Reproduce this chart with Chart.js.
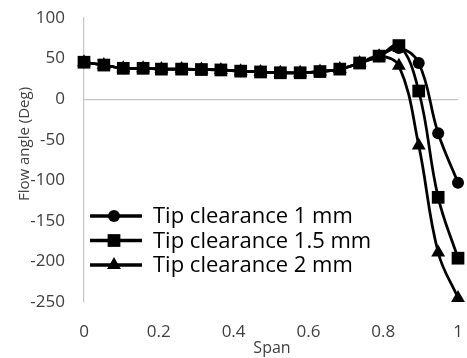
<!DOCTYPE html>
<html>
<head>
<meta charset="utf-8">
<script src="https://cdn.jsdelivr.net/npm/chart.js@4/dist/chart.umd.min.js"></script>
<style>
  body { margin: 0; background: #fff; }
  #wrap { width: 467px; height: 358px; }
</style>
</head>
<body>
<div id="wrap"><canvas id="flowChart" width="467" height="358"></canvas></div>
<script>
// span positions
const span = [0, 0.053, 0.105, 0.158, 0.207, 0.261, 0.314, 0.366, 0.419, 0.472,
              0.525, 0.578, 0.631, 0.684, 0.737, 0.789, 0.842, 0.895, 0.947, 1];

// flow angle (deg) for each tip clearance
const clear1 = [45.5, 42, 38, 38, 37, 37, 36.5, 36, 34.5, 33.5,
                32.5, 32.5, 34, 37, 44.5, 53, 63, 44.5, -42, -103];
const clear15 = [45.5, 42, 38, 38, 37, 37, 36.5, 36, 34.5, 33.5,
                 32.5, 32.5, 34, 37, 44.5, 53, 66, 10, -121, -196];
const clear2 = [45.5, 42, 38, 38, 37, 37, 36.5, 36, 34.5, 33.5,
                32.5, 32.5, 34, 37, 44.5, 53, 41, -57, -189, -245];

const seriesNames = ["Tip clearance 1 mm", "Tip clearance 1.5 mm", "Tip clearance 2 mm"];
const seriesData = [clear1, clear15, clear2];
const markers = ["circle", "rect", "triangle"];
const markerSize = [6, 9, 8];

const yTicks = { min: -250, max: 100, step: 50 };
const xTicks = { min: 0, max: 1, step: 0.2 };

const FONT = "'Open Sans', 'DejaVu Sans', sans-serif";

function toPoints(values) {
    return values.map((v, i) => ({ x: span[i], y: v }));
}

// draw one marker shape (used for legend)
function drawMarker(ctx, style, x, y, r) {
    ctx.beginPath();
    if (style === "circle") {
        ctx.arc(x, y, r, 0, Math.PI * 2);
    } else if (style === "rect") {
        const s = r * Math.SQRT1_2;
        ctx.rect(x - s, y - s, 2 * s, 2 * s);
    } else {
        ctx.moveTo(x, y - r);
        ctx.lineTo(x + r * Math.sin(Math.PI * 2 / 3), y + r / 2);
        ctx.lineTo(x - r * Math.sin(Math.PI * 2 / 3), y + r / 2);
        ctx.closePath();
    }
    ctx.fill();
}

// legend sits inside the plot, plus the two axis titles
const overlay = {
    id: "overlay",
    afterDraw(chart) {
        const ctx = chart.ctx;
        ctx.save();
        seriesNames.forEach((name, i) => {
            const y = 216 + i * 24.5;
            ctx.strokeStyle = "#000";
            ctx.fillStyle = "#000";
            ctx.lineWidth = 3.5;
            ctx.beginPath();
            ctx.moveTo(90, y);
            ctx.lineTo(142, y);
            ctx.stroke();
            drawMarker(ctx, markers[i], 114, y, markerSize[i]);
            ctx.font = "22px " + FONT;
            ctx.textBaseline = "middle";
            ctx.textAlign = "left";
            ctx.fillText(name, 153, y + 1);
        });

        ctx.fillStyle = "#404040";
        ctx.textAlign = "center";
        ctx.textBaseline = "middle";
        ctx.font = "16px " + FONT;
        ctx.fillText("Span", 272, 348);

        ctx.translate(25, 144);
        ctx.rotate(-Math.PI / 2);
        ctx.font = "15px " + FONT;
        ctx.fillText("Flow angle (Deg)", 0, 0);
        ctx.restore();
    }
};

function noPad(scale) {
    scale.paddingLeft = 0;
    scale.paddingRight = 0;
    scale.paddingTop = 0;
    scale.paddingBottom = 0;
}

new Chart(document.getElementById("flowChart"), {
    type: "line",
    data: {
        datasets: seriesNames.map((name, i) => ({
            label: name,
            data: toPoints(seriesData[i]),
            borderColor: "#000",
            backgroundColor: "#000",
            borderWidth: 2.75,
            pointStyle: markers[i],
            pointRadius: markerSize[i],
            pointBorderWidth: 0,
            tension: 0.4,
            clip: false
        }))
    },
    options: {
        responsive: false,
        animation: false,
        layout: { padding: { top: 18, right: 5, left: 0, bottom: 0 } },
        plugins: {
            legend: { display: false },
            tooltip: { enabled: false }
        },
        scales: {
            x: {
                type: "linear",
                min: xTicks.min,
                max: xTicks.max,
                ticks: {
                    stepSize: xTicks.step,
                    color: "#404040",
                    font: { family: FONT, size: 17 },
                    padding: 20,
                    callback: v => String(Math.round(v * 10) / 10)
                },
                grid: { display: false, drawTicks: false },
                border: { display: false },
                afterFit(scale) { scale.height = 56; noPad(scale); }
            },
            y: {
                min: yTicks.min,
                max: yTicks.max,
                ticks: {
                    stepSize: yTicks.step,
                    color: "#404040",
                    font: { family: FONT, size: 17 },
                    padding: 19
                },
                grid: {
                    drawTicks: false,
                    color: ctx => ctx.tick && ctx.tick.value === 0 ? "#c4c4c4" : "rgba(0,0,0,0)",
                    lineWidth: 1.2
                },
                border: { display: true, color: "#c4c4c4", width: 1.2 },
                afterFit(scale) { scale.width = 84; noPad(scale); }
            }
        }
    },
    plugins: [overlay]
});
</script>
</body>
</html>
